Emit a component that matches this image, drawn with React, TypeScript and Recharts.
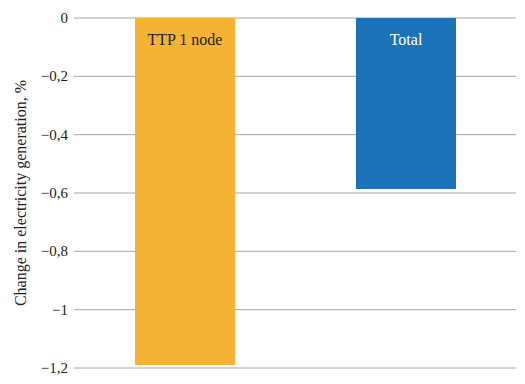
import React from 'react';
import { BarChart, Bar, XAxis, YAxis, CartesianGrid, Cell, LabelList, Label } from 'recharts';

const categories = ['TTP 1 node', 'Total'];
const values = [-1.19, -0.586];
const barColors = ['#F5B335', '#1B72B9'];
const labelColors = ['#222222', '#ffffff'];
const tickValues = [0, -0.2, -0.4, -0.6, -0.8, -1, -1.2];
const tickLabels = ['0', '\u22120,2', '\u22120,4', '\u22120,6', '\u22120,8', '\u22121', '\u22121,2'];
const yTitle = 'Change in electricity generation, %';

const data = categories.map((name, i) => ({ name, value: values[i] }));

const FONT = "'Liberation Serif', serif";

const BarLabel = (props: any) => {
  const { x, y, width, height, index } = props;
  const top = Math.min(y, y + height);
  return (
    <text
      x={x + width / 2}
      y={top + 21}
      textAnchor="middle"
      dominantBaseline="central"
      style={{ fontFamily: FONT, fontSize: 16 }}
      fill={labelColors[index]}
    >
      {categories[index]}
    </text>
  );
};

const AxisTitle = (props: any) => {
  const vb = props.viewBox || { x: 0, y: 0, width: 0, height: 0 };
  const cx = vb.x + 20;
  const cy = vb.y + vb.height / 2;
  return (
    <text
      x={cx}
      y={cy}
      transform={`rotate(-90, ${cx}, ${cy})`}
      textAnchor="middle"
      dominantBaseline="central"
      style={{ fontFamily: FONT, fontSize: 16 }}
      fill="#222222"
    >
      {yTitle}
    </text>
  );
};

const YTick = (props: any) => {
  const { x, y, payload } = props;
  const i = tickValues.findIndex((t) => Math.abs(t - payload.value) < 1e-9);
  return (
    <text
      x={x}
      y={y}
      textAnchor="end"
      dominantBaseline="central"
      style={{ fontFamily: FONT, fontSize: 15 }}
      fill="#222222"
    >
      {i >= 0 ? tickLabels[i] : String(payload.value)}
    </text>
  );
};

export default function App() {
  return (
    <div style={{ position: 'absolute', left: 0, top: 0, fontFamily: FONT }}>
      <BarChart
        width={525}
        height={384}
        data={data}
        margin={{ top: 18, right: 9, bottom: 16, left: 0 }}
        barSize={100}
      >
        <CartesianGrid vertical={false} stroke="#a6a6a6" strokeWidth={1} />
        <XAxis dataKey="name" hide />
        <YAxis
          width={74}
          domain={[-1.2, 0]}
          ticks={tickValues}
          interval={0}
          axisLine={false}
          tickLine={false}
          tickSize={4}
          tick={<YTick />}
        >
          <Label content={<AxisTitle />} />
        </YAxis>
        <Bar dataKey="value" isAnimationActive={false}>
          {data.map((d, i) => (
            <Cell key={d.name} fill={barColors[i]} />
          ))}
          <LabelList dataKey="name" content={<BarLabel />} />
        </Bar>
      </BarChart>
    </div>
  );
}
